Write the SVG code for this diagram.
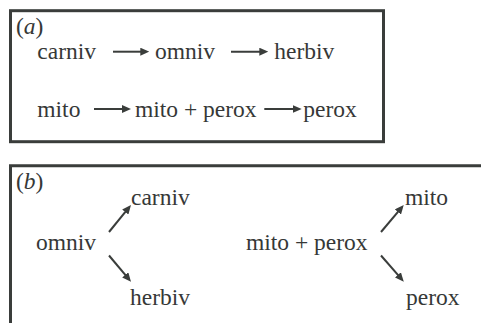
<svg xmlns="http://www.w3.org/2000/svg" width="481" height="323" viewBox="0 0 481 323">
  <style>
    .frame { fill: none; stroke: #3a3d3b; stroke-width: 3; }
    .lbl { font-family: 'Liberation Serif', 'DejaVu Serif', serif; font-size: 23.5px; fill: #363837; }
    .arr { stroke: #3a3d3b; stroke-width: 2; fill: none; marker-end: url(#head); }
  </style>
  <defs>
    <marker id="head" viewBox="0 0 9 8" markerWidth="9" markerHeight="8" refX="4" refY="4" orient="auto" markerUnits="userSpaceOnUse">
      <path d="M0,0 L9,4 L0,8 z" fill="#3a3d3b"/>
    </marker>
  </defs>

  <!-- panel (a) frame -->
  <rect class="frame" x="10.5" y="10.7" width="373" height="131"/>
  <!-- panel (b) frame: open at right and bottom -->
  <path class="frame" d="M481,165.8 H10.5 V323"/>

  <text class="lbl" font-family="Liberation Serif" x="16" y="34">(<tspan font-style="italic">a</tspan>)</text>
  <text class="lbl" font-family="Liberation Serif" x="16" y="188.5">(<tspan font-style="italic">b</tspan>)</text>

  <!-- panel (a) nodes -->
  <g id="a-carniv"><text class="lbl" x="37.3" y="59.3">carniv</text></g>
  <g id="a-omniv"><text class="lbl" x="155" y="59.3">omniv</text></g>
  <g id="a-herbiv"><text class="lbl" x="274.3" y="59.3">herbiv</text></g>
  <g id="a-mito"><text class="lbl" x="37.3" y="117.3">mito</text></g>
  <g id="a-mitoperox"><text class="lbl" x="135" y="117.3">mito + perox</text></g>
  <g id="a-perox"><text class="lbl" x="303.3" y="117.3">perox</text></g>

  <!-- panel (b) nodes -->
  <g id="b-omniv"><text class="lbl" x="36" y="250">omniv</text></g>
  <g id="b-carniv"><text class="lbl" x="131" y="205">carniv</text></g>
  <g id="b-herbiv"><text class="lbl" x="130" y="305">herbiv</text></g>
  <g id="b-mitoperox"><text class="lbl" x="246" y="250">mito + perox</text></g>
  <g id="b-mito"><text class="lbl" x="405" y="205">mito</text></g>
  <g id="b-perox"><text class="lbl" x="406" y="305">perox</text></g>

  <!-- connectors -->
  <g id="connectors">
    <line class="arr" x1="113" y1="51.7" x2="144.3" y2="51.7"/>
    <line class="arr" x1="231" y1="51.7" x2="263.3" y2="51.7"/>
    <line class="arr" x1="94" y1="109" x2="126" y2="109"/>
    <line class="arr" x1="264.3" y1="109" x2="296.7" y2="109"/>
    <line class="arr" x1="109" y1="232" x2="127.8" y2="208.9"/>
    <line class="arr" x1="109" y1="255.5" x2="127.8" y2="277.9"/>
    <line class="arr" x1="381" y1="232" x2="400.5" y2="208.9"/>
    <line class="arr" x1="381" y1="255.5" x2="400.5" y2="277.9"/>
  </g>
</svg>
